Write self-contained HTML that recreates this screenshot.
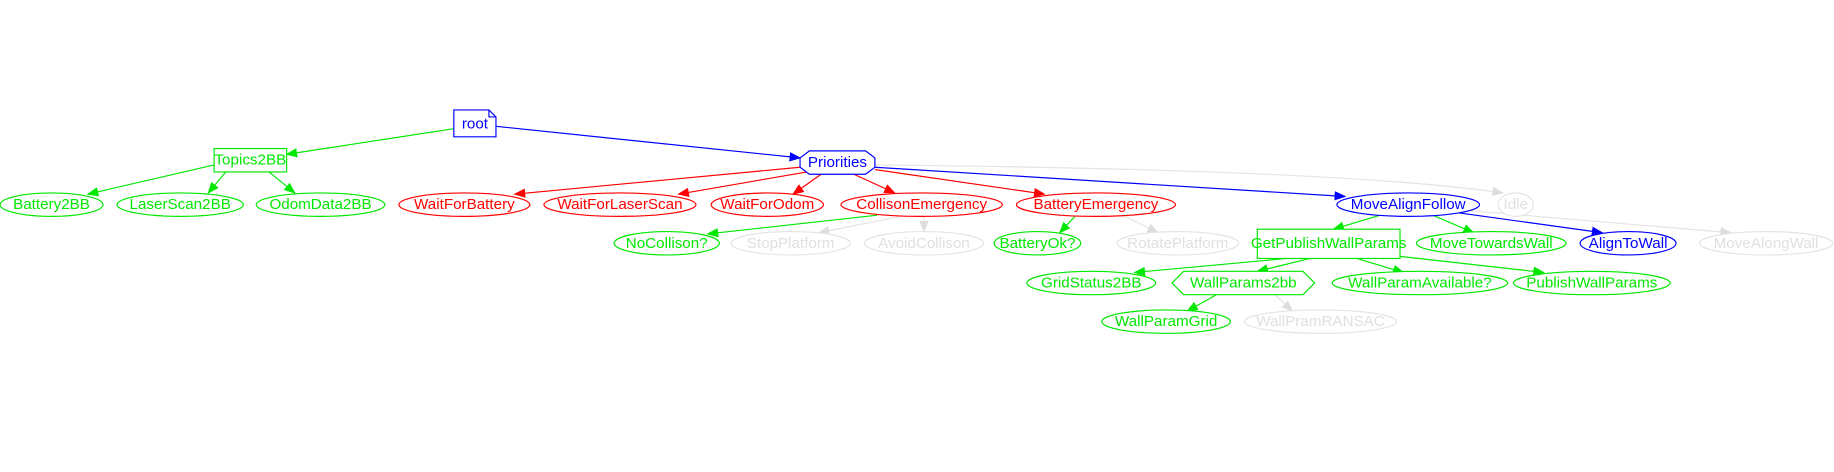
<!DOCTYPE html>
<html><head><style>
html,body{margin:0;padding:0;background:#fff;}
svg text{font-family:"Liberation Sans",sans-serif;font-size:13px;font-weight:normal;text-anchor:middle;dominant-baseline:central;}
</style></head><body>
<svg width="1834" height="467" viewBox="0 0 1568 399.3" xmlns="http://www.w3.org/2000/svg">
<defs>
<marker id="g" markerWidth="10" markerHeight="8" refX="9" refY="4" orient="auto" markerUnits="userSpaceOnUse"><path d="M0,0L10,4L0,8z" fill="#00e800"/></marker>
<marker id="r" markerWidth="10" markerHeight="8" refX="9" refY="4" orient="auto" markerUnits="userSpaceOnUse"><path d="M0,0L10,4L0,8z" fill="#f00"/></marker>
<marker id="b" markerWidth="10" markerHeight="8" refX="9" refY="4" orient="auto" markerUnits="userSpaceOnUse"><path d="M0,0L10,4L0,8z" fill="#00f"/></marker>
<marker id="k" markerWidth="10" markerHeight="8" refX="9" refY="4" orient="auto" markerUnits="userSpaceOnUse"><path d="M0,0L10,4L0,8z" fill="#ddd"/></marker>
</defs>
<g fill="none" stroke-width="1">
<g stroke="#00e800" marker-end="url(#g)">
<line x1="388" y1="110" x2="245" y2="132"/>
<line x1="183" y1="141" x2="75" y2="166"/>
<line x1="193" y1="147" x2="178" y2="165"/>
<line x1="230" y1="147" x2="252" y2="165"/>
<line x1="750" y1="184" x2="605" y2="200"/>
<line x1="920" y1="184" x2="906" y2="199"/>
<line x1="1180" y1="184" x2="1140" y2="196"/>
<line x1="1225" y1="184" x2="1260" y2="199"/>
<line x1="1100" y1="221" x2="970" y2="233"/>
<line x1="1120" y1="221" x2="1075" y2="232"/>
<line x1="1160" y1="221" x2="1200" y2="233"/>
<line x1="1195" y1="219" x2="1320" y2="233"/>
<line x1="1040" y1="252" x2="1015" y2="266"/>
</g>
<g stroke="#f00" marker-end="url(#r)">
<line x1="684" y1="143" x2="440" y2="166"/>
<line x1="690" y1="147" x2="580" y2="166"/>
<line x1="702" y1="149" x2="678" y2="166"/>
<line x1="730" y1="149" x2="765" y2="165"/>
<line x1="748" y1="145" x2="893" y2="166"/>
</g>
<g stroke="#00f" marker-end="url(#b)">
<line x1="424" y1="108" x2="684" y2="135"/>
<line x1="748" y1="143" x2="1150" y2="168"/>
<line x1="1240" y1="181" x2="1370" y2="199"/>
</g>
<g stroke="#e4e4e4" marker-end="url(#k)">
<path d="M748,141 Q1150,145 1285,165"/>
<line x1="770" y1="185" x2="700" y2="199"/>
<line x1="790" y1="185" x2="790" y2="198"/>
<line x1="960" y1="184" x2="990" y2="199"/>
<line x1="1255" y1="180" x2="1480" y2="199"/>
<line x1="1090" y1="252" x2="1105" y2="266"/>
</g>
</g>
<g fill="#fff" stroke-width="1">
<path d="M388,94H418L424,100V117H388Z M418,94V100H424" stroke="#00f"/>
<rect x="183" y="127" width="62" height="20" stroke="#00e800"/>
<polygon points="692,129 740,129 748,135 748,143 740,149 692,149 684,143 684,135" stroke="#00f"/>
<g stroke="#00e800">
<ellipse cx="44" cy="175" rx="44" ry="10"/>
<ellipse cx="154" cy="175" rx="54" ry="10"/>
<ellipse cx="274" cy="175" rx="55" ry="10"/>
<ellipse cx="570" cy="208" rx="45" ry="10"/>
<ellipse cx="887" cy="208" rx="37" ry="10"/>
<rect x="1075" y="196" width="122" height="25"/>
<ellipse cx="1275" cy="208" rx="64" ry="10"/>
<ellipse cx="933" cy="242" rx="55" ry="10"/>
<polygon points="1002,242 1012,232 1114,232 1124,242 1114,252 1012,252" />
<ellipse cx="1214" cy="242" rx="75" ry="10"/>
<ellipse cx="1361" cy="242" rx="67" ry="10"/>
<ellipse cx="997" cy="275" rx="55" ry="10"/>
</g>
<g stroke="#f00">
<ellipse cx="397" cy="175" rx="56" ry="10"/>
<ellipse cx="530" cy="175" rx="65" ry="10"/>
<ellipse cx="656" cy="175" rx="48" ry="10"/>
<ellipse cx="788" cy="175" rx="69" ry="10"/>
<ellipse cx="937" cy="175" rx="68" ry="10"/>
</g>
<g stroke="#00f">
<ellipse cx="1204" cy="175" rx="61" ry="10"/>
<ellipse cx="1392" cy="208" rx="41" ry="10"/>
</g>
<g stroke="#e4e4e4">
<ellipse cx="1296" cy="175" rx="15" ry="10"/>
<ellipse cx="676" cy="208" rx="51" ry="10"/>
<ellipse cx="790" cy="208" rx="51" ry="10"/>
<ellipse cx="1007" cy="208" rx="52" ry="10"/>
<ellipse cx="1510" cy="208" rx="57" ry="10"/>
<ellipse cx="1129" cy="275" rx="65" ry="10"/>
</g>
</g>
<g fill="#00f">
<text x="406" y="106">root</text>
<text x="716" y="139">Priorities</text>
<text x="1204" y="175">MoveAlignFollow</text>
<text x="1392" y="208">AlignToWall</text>
</g>
<g fill="#00e800">
<text x="214" y="137">Topics2BB</text>
<text x="44" y="175">Battery2BB</text>
<text x="154" y="175">LaserScan2BB</text>
<text x="274" y="175">OdomData2BB</text>
<text x="570" y="208">NoCollison?</text>
<text x="887" y="208">BatteryOk?</text>
<text x="1136" y="208">GetPublishWallParams</text>
<text x="1275" y="208">MoveTowardsWall</text>
<text x="933" y="242">GridStatus2BB</text>
<text x="1063" y="242">WallParams2bb</text>
<text x="1214" y="242">WallParamAvailable?</text>
<text x="1361" y="242">PublishWallParams</text>
<text x="997" y="275">WallParamGrid</text>
</g>
<g fill="#f00">
<text x="397" y="175">WaitForBattery</text>
<text x="530" y="175">WaitForLaserScan</text>
<text x="656" y="175">WaitForOdom</text>
<text x="788" y="175">CollisonEmergency</text>
<text x="937" y="175">BatteryEmergency</text>
</g>
<g fill="#e0e0e0">
<text x="1296" y="175">Idle</text>
<text x="676" y="208">StopPlatform</text>
<text x="790" y="208">AvoidCollison</text>
<text x="1007" y="208">RotatePlatform</text>
<text x="1510" y="208">MoveAlongWall</text>
<text x="1129" y="275">WallPramRANSAC</text>
</g>
</svg>
</body></html>
